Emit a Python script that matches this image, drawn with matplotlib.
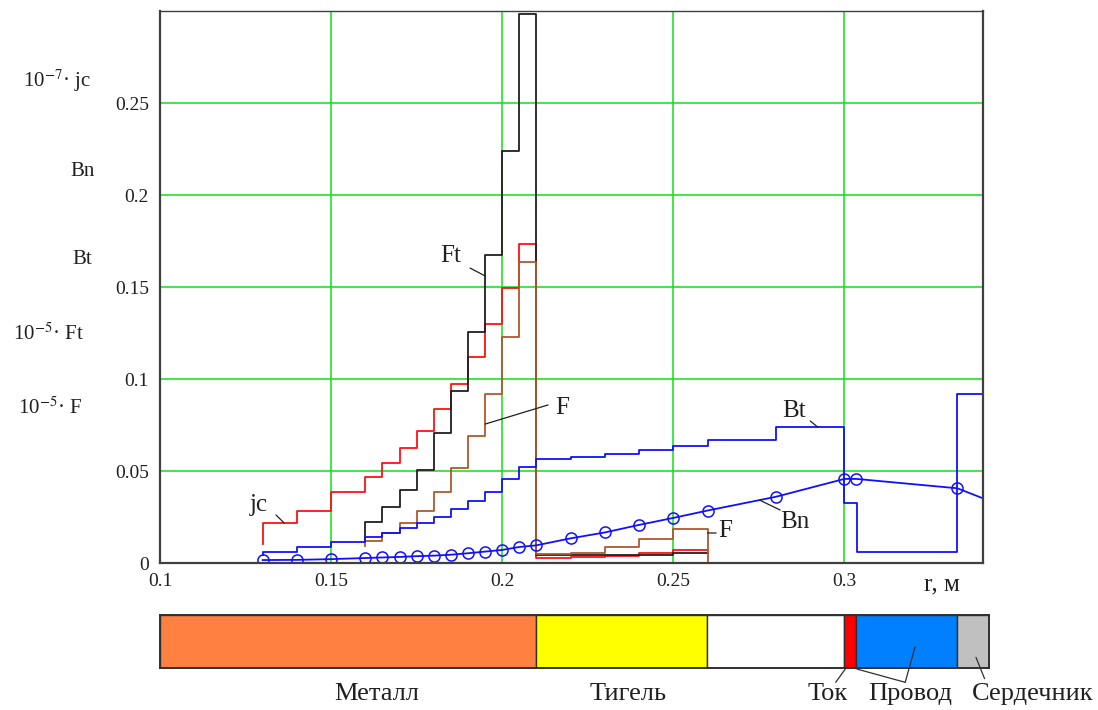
import matplotlib.pyplot as plt

plt.rcParams['font.family'] = ['Liberation Serif', 'DejaVu Serif']
plt.rcParams['mathtext.fontset'] = 'stix'

# ступенчатые величины по радиусу r, м
jc_r = [0.13, 0.14, 0.15, 0.16, 0.165, 0.17, 0.175, 0.18, 0.185, 0.19, 0.195,
        0.2, 0.205, 0.21, 0.22, 0.23, 0.24, 0.25, 0.26]
jc = [0.0217, 0.0285, 0.0387, 0.0469, 0.0545, 0.0627, 0.0719, 0.0835, 0.0971,
      0.1118, 0.1300, 0.1493, 0.1733, 0.0027, 0.0031, 0.0040, 0.0053, 0.0071]
jc_start = 0.0103

f_r = [0.16, 0.165, 0.17, 0.175, 0.18, 0.185, 0.19, 0.195, 0.2, 0.205, 0.21,
       0.22, 0.23, 0.24, 0.25, 0.26]
Ft = [0.0223, 0.0305, 0.0397, 0.0508, 0.0705, 0.0935, 0.1254, 0.1674, 0.2239,
      0.2985, 0.0043, 0.0043, 0.0043, 0.0043, 0.0053]
Ft_start = 0.0125
F = [0.0121, 0.0161, 0.0216, 0.0283, 0.0388, 0.0515, 0.0690, 0.0918, 0.1227,
     0.1638, 0.0047, 0.0055, 0.0089, 0.0129, 0.0183]
F_start = 0.0095
F_end = 0.0007

bt_r = [0.13, 0.14, 0.15, 0.16, 0.165, 0.17, 0.175, 0.18, 0.185, 0.19, 0.195,
        0.2, 0.205, 0.21, 0.22, 0.23, 0.24, 0.25, 0.26, 0.28, 0.3, 0.3036,
        0.3328, 0.345]
Bt = [0.0062, 0.0087, 0.0112, 0.0143, 0.0165, 0.0192, 0.0216, 0.0250, 0.0295,
      0.0339, 0.0388, 0.0457, 0.0524, 0.0567, 0.0576, 0.0594, 0.0612, 0.0638,
      0.0670, 0.0737, 0.0328, 0.0062, 0.0918]
Bt_start = 0.0045

bn_r = [0.13, 0.14, 0.15, 0.16, 0.165, 0.17, 0.175, 0.18, 0.185, 0.19, 0.195,
        0.2, 0.205, 0.21, 0.22, 0.23, 0.24, 0.25, 0.26, 0.28, 0.3, 0.3035,
        0.333, 0.3404]
Bn = [0.0016, 0.0017, 0.0021, 0.0027, 0.0030, 0.0033, 0.0037, 0.0040, 0.0045,
      0.0053, 0.0062, 0.0071, 0.0087, 0.0096, 0.0134, 0.0166, 0.0207, 0.0245,
      0.0285, 0.0360, 0.0457, 0.0457, 0.0406, 0.0352]

# зоны установки
zone_names = ['Металл', 'Тигель', '', 'Ток', 'Провод', 'Сердечник']
zone_edges = [0.1, 0.21, 0.26, 0.3, 0.3035, 0.333, 0.3423]
zone_colors = ['#ff8040', '#ffff00', '#ffffff', '#ff0000', '#0080ff', '#c0c0c0']

W, H = 1098, 710
fig = plt.figure(figsize=(W / 100, H / 100), dpi=100)
ax = fig.add_axes([160 / W, (H - 563) / H, 822.7 / W, 552 / H])


def steps(r, v, start=None, end=None):
    xs = list(r)
    ys = list(v) + [v[-1]]
    if start is not None:
        xs = [r[0]] + xs
        ys = [start] + ys
    if end is not None:
        xs = xs + [r[-1]]
        ys = ys + [end]
    return xs, ys


lw = 1.3
ax.step(*steps(jc_r, jc, jc_start), where='post', color='#ff1010', lw=lw)
ax.step(*steps(f_r, Ft, Ft_start), where='post', color='#202020', lw=lw)
ax.step(*steps(f_r, F, F_start, F_end), where='post', color='#b0582c', lw=lw)
ax.step(*steps(bt_r, Bt, Bt_start), where='post', color='#1010ff', lw=lw)
ax.plot(bn_r, Bn, color='#1010ff', lw=lw, marker='o', ms=8, mfc='none',
        mec='#1010ff', mew=1.1, markevery=list(range(len(bn_r) - 1)))

ax.set_xlim(0.1, 0.3404)
ax.set_ylim(0, 0.3)
ax.set_xticks([0.1, 0.15, 0.2, 0.25, 0.3])
ax.set_xticklabels(['0.1', '0.15', '0.2', '0.25', '0.3'])
ax.set_yticks([0, 0.05, 0.1, 0.15, 0.2, 0.25])
ax.set_yticklabels(['0', '0.05', '0.1', '0.15', '0.2', '0.25'])
ax.tick_params(length=0, labelsize=14, colors='#202020')
ax.tick_params(axis='y', pad=8)
ax.tick_params(axis='x', pad=7)
ax.grid(True, color='#10e010', lw=1.1)
ax.set_axisbelow(True)
for s in ax.spines.values():
    s.set_color('#404040')
    s.set_linewidth(1.6)
ax.spines['top'].set_linewidth(1.0)

# подписи кривых
lab = dict(fontsize=18, ha='center', va='center', color='#202020')
ptr = dict(arrowstyle='-', color='#202020', lw=0.9, shrinkA=0, shrinkB=0)
ax.text(0.1289, 0.0315, 'jc', **lab)
ax.annotate('', xy=(0.1363, 0.0217), xytext=(0.1339, 0.0261), arrowprops=ptr)
ax.text(0.185, 0.1668, 'Ft', **lab)
ax.annotate('', xy=(0.195, 0.156), xytext=(0.1906, 0.1603), arrowprops=ptr)
ax.text(0.2175, 0.0845, 'F', **lab)
ax.annotate('', xy=(0.195, 0.0755), xytext=(0.2134, 0.0859), arrowprops=ptr)
ax.text(0.2652, 0.0175, 'F', **lab)
ax.annotate('', xy=(0.26, 0.0163), xytext=(0.2625, 0.0163), arrowprops=ptr)
ax.text(0.2852, 0.0826, 'Bt', **lab)
ax.annotate('', xy=(0.2923, 0.0737), xytext=(0.29, 0.0772), arrowprops=ptr)
ax.text(0.2855, 0.0223, 'Bn', **lab)
ax.annotate('', xy=(0.2753, 0.0341), xytext=(0.2812, 0.0288), arrowprops=ptr)

# обозначения по оси ординат
ylab = dict(fontsize=15, ha='center', va='center', color='#202020')
fig.text(57 / W, 1 - 81 / H, r'10$^{-7}$· jc', **ylab)
fig.text(83 / W, 1 - 171 / H, 'Bn', **ylab)
fig.text(82 / W, 1 - 260 / H, 'Bt', **ylab)
fig.text(48 / W, 1 - 334 / H, r'10$^{-5}$· Ft', **ylab)
fig.text(50 / W, 1 - 408 / H, r'10$^{-5}$· F', **ylab)
fig.text(942 / W, 1 - 584 / H, 'r, м', fontsize=18, ha='center',
         va='center', color='#202020')

# полоса зон
axb = fig.add_axes([160 / W, (H - 668) / H, 829 / W, 53 / H])
widths = [b - a for a, b in zip(zone_edges[:-1], zone_edges[1:])]
axb.barh(0, widths, left=zone_edges[:-1], height=1, color=zone_colors,
         edgecolor='#303030', lw=1.0)
axb.set_xlim(zone_edges[0], zone_edges[-1])
axb.set_ylim(-0.5, 0.5)
axb.set_xticks([])
axb.set_yticks([])
for s in axb.spines.values():
    s.set_color('#303030')
    s.set_linewidth(1.4)

blab = dict(fontsize=19, ha='center', va='center', color='#202020')
fig.text(377 / W, 1 - 694 / H, zone_names[0], **blab)
fig.text(628 / W, 1 - 694 / H, zone_names[1], **blab)
fig.text(828 / W, 1 - 694 / H, zone_names[3], **blab)
fig.text(910 / W, 1 - 694 / H, zone_names[4], **blab)
fig.text(1033 / W, 1 - 694 / H, zone_names[5], **blab)

bptr = dict(arrowstyle='-', color='#303030', lw=0.9, shrinkA=0, shrinkB=0)
axb.annotate('', xy=(0.3005, -0.5), xytext=(0.2975, -0.77),
             annotation_clip=False, arrowprops=bptr)
axb.annotate('', xy=(0.3037, -0.52), xytext=(0.3178, -0.77),
             annotation_clip=False, arrowprops=bptr)
axb.annotate('', xy=(0.3207, -0.1), xytext=(0.3178, -0.77),
             annotation_clip=False, arrowprops=bptr)
axb.annotate('', xy=(0.3385, -0.3), xytext=(0.341, -0.7),
             annotation_clip=False, arrowprops=bptr)

fig.savefig('out.png', dpi=100)
